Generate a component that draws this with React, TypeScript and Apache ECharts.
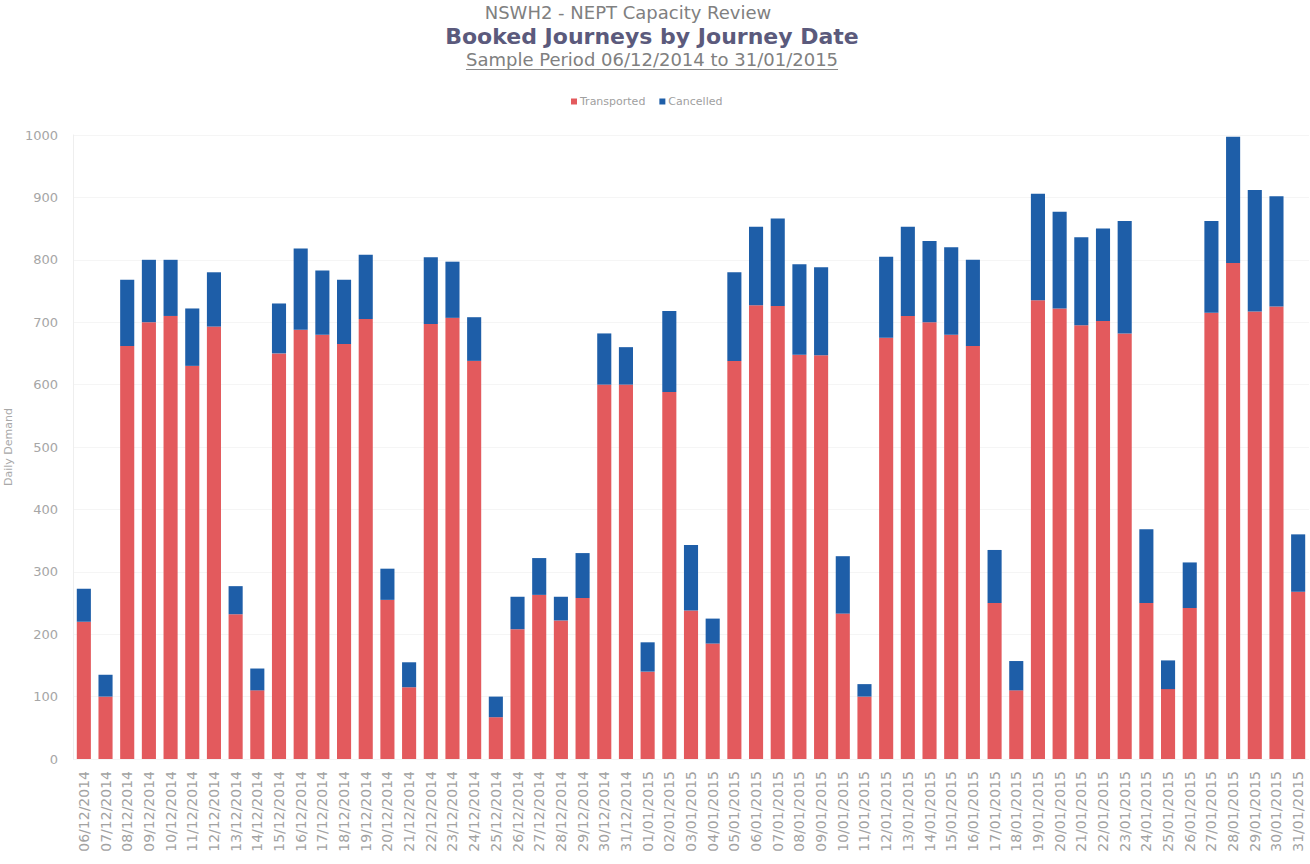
import React, { useEffect, useRef } from "react";
import * as echarts from "echarts";

// Journey dates (06/12/2014 – 31/01/2015)
const dates: string[] = [
  "06/12/2014", "07/12/2014", "08/12/2014", "09/12/2014", "10/12/2014", "11/12/2014", "12/12/2014",
  "13/12/2014", "14/12/2014", "15/12/2014", "16/12/2014", "17/12/2014", "18/12/2014", "19/12/2014",
  "20/12/2014", "21/12/2014", "22/12/2014", "23/12/2014", "24/12/2014", "25/12/2014", "26/12/2014",
  "27/12/2014", "28/12/2014", "29/12/2014", "30/12/2014", "31/12/2014", "01/01/2015", "02/01/2015",
  "03/01/2015", "04/01/2015", "05/01/2015", "06/01/2015", "07/01/2015", "08/01/2015", "09/01/2015",
  "10/01/2015", "11/01/2015", "12/01/2015", "13/01/2015", "14/01/2015", "15/01/2015", "16/01/2015",
  "17/01/2015", "18/01/2015", "19/01/2015", "20/01/2015", "21/01/2015", "22/01/2015", "23/01/2015",
  "24/01/2015", "25/01/2015", "26/01/2015", "27/01/2015", "28/01/2015", "29/01/2015", "30/01/2015",
  "31/01/2015",
];

const transported: number[] = [
  220, 100, 662, 700, 710, 630, 693, 232, 110, 650, 688, 680, 665, 705, 255, 115, 697, 707, 638,
  67, 208, 263, 222, 258, 600, 600, 140, 588, 238, 185, 638, 727, 726, 648, 647, 233, 100, 675,
  710, 700, 680, 662, 250, 110, 735, 722, 695, 702, 682, 250, 112, 242, 715, 795, 717, 725, 268,
];

const cancelled: number[] = [
  53, 35, 106, 100, 90, 92, 87, 45, 35, 80, 130, 103, 103, 103, 50, 40, 107, 90, 70,
  33, 52, 59, 38, 72, 82, 60, 47, 130, 105, 40, 142, 126, 140, 145, 141, 92, 20, 130,
  143, 130, 140, 138, 85, 47, 171, 155, 141, 148, 180, 118, 46, 73, 147, 202, 195, 177, 92,
];

const yTicks = { min: 0, max: 1000, interval: 100 };

const headline = "NSWH2 - NEPT Capacity Review";
const mainTitle = "Booked Journeys by Journey Date";
const periodText = "Sample Period 06/12/2014 to 31/01/2015";

const FONT = "'DejaVu Sans', Verdana, sans-serif";

function measure(text: string, font: string): number {
  const ctx = document.createElement("canvas").getContext("2d");
  if (!ctx) return text.length * 9;
  ctx.font = font;
  return ctx.measureText(text).width;
}

export default function App() {
  const ref = useRef<HTMLDivElement>(null);

  useEffect(() => {
    document.body.style.margin = "0";
    if (!ref.current) return;
    const chart = echarts.init(ref.current, undefined, { renderer: "svg" });

    const cx = 652;
    const periodSize = 18;
    const periodW = measure(periodText, `${periodSize}px 'DejaVu Sans'`);

    chart.setOption({
      animation: false,
      backgroundColor: "#ffffff",
      textStyle: { fontFamily: FONT },
      graphic: [
        {
          type: "text",
          x: 628,
          y: 12,
          style: {
            text: headline,
            fill: "#808080",
            font: `18px ${FONT}`,
            align: "center",
            verticalAlign: "middle",
          },
        },
        {
          type: "text",
          x: cx,
          y: 36,
          style: {
            text: mainTitle,
            fill: "#5b5a7c",
            font: `bold 22px ${FONT}`,
            align: "center",
            verticalAlign: "middle",
          },
        },
        {
          type: "text",
          x: cx,
          y: 59,
          style: {
            text: periodText,
            fill: "#808080",
            font: `${periodSize}px ${FONT}`,
            align: "center",
            verticalAlign: "middle",
          },
        },
        {
          type: "line",
          shape: { x1: cx - periodW / 2, y1: 69.5, x2: cx + periodW / 2, y2: 69.5 },
          style: { stroke: "#8a8a8a", lineWidth: 1 },
        },
      ],
      legend: {
        top: 91,
        left: 566,
        itemWidth: 6,
        itemHeight: 6,
        itemGap: 14,
        icon: "rect",
        textStyle: { color: "#a0a0a0", fontSize: 11, fontFamily: FONT, padding: [0, 0, 0, -2] },
        data: ["Transported", "Cancelled"],
      },
      grid: {
        left: 73,
        right: 1,
        top: 135,
        bottom: 105,
        containLabel: false,
        outerBoundsMode: "none",
      },
      xAxis: {
        type: "category",
        data: dates,
        axisTick: { show: false },
        axisLine: { show: false },
        axisLabel: {
          interval: 0,
          rotate: 90,
          color: "#a2a2a2",
          fontSize: 14,
          margin: 12,
          fontFamily: FONT,
        },
      },
      yAxis: {
        type: "value",
        min: yTicks.min,
        max: yTicks.max,
        interval: yTicks.interval,
        name: "Daily Demand",
        nameLocation: "middle",
        nameGap: 58,
        nameTextStyle: { color: "#a8a8a8", fontSize: 11, fontFamily: FONT },
        axisLine: { show: true, lineStyle: { color: "#eeeeee" } },
        axisTick: { show: false },
        splitLine: { show: true, lineStyle: { color: "#f5f5f5" } },
        axisLabel: {
          color: "#a6a6a6",
          fontSize: 13,
          margin: 15,
          fontFamily: FONT,
          formatter: (v: number) => String(v),
        },
      },
      series: [
        {
          name: "Transported",
          type: "bar",
          stack: "total",
          data: transported,
          barCategoryGap: "35%",
          itemStyle: { color: "#e35a5d" },
        },
        {
          name: "Cancelled",
          type: "bar",
          stack: "total",
          data: cancelled,
          barCategoryGap: "35%",
          itemStyle: { color: "#1e5ea8" },
        },
      ],
    });

    return () => chart.dispose();
  }, []);

  return <div ref={ref} style={{ width: 1310, height: 864 }} />;
}
